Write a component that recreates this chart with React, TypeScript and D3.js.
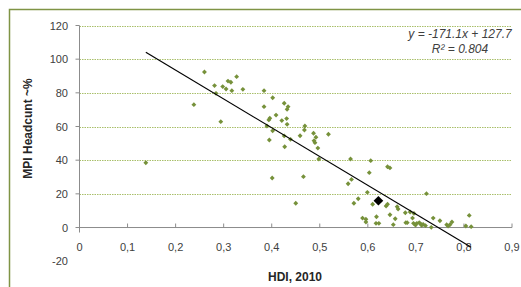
import * as d3 from "d3";

// HDI 2010 vs MPI headcount (%)
const hdi = [
  0.138, 0.238, 0.26, 0.281, 0.284, 0.294, 0.298, 0.305, 0.309, 0.315, 0.317,
  0.327, 0.34, 0.384, 0.402, 0.384, 0.426, 0.434, 0.432, 0.396, 0.394, 0.409,
  0.421, 0.431, 0.432, 0.39, 0.402, 0.469, 0.468, 0.459, 0.426, 0.439, 0.395,
  0.487, 0.492, 0.488, 0.518, 0.427, 0.49, 0.496, 0.498, 0.401, 0.466, 0.45,
  0.564, 0.606, 0.603, 0.641, 0.646, 0.566, 0.559, 0.599, 0.722, 0.58, 0.571,
  0.61, 0.638, 0.641, 0.661, 0.663, 0.678, 0.688, 0.696, 0.646, 0.618, 0.589,
  0.596, 0.596, 0.617, 0.623, 0.657, 0.653, 0.679, 0.682, 0.693, 0.695, 0.699,
  0.702, 0.707, 0.71, 0.712, 0.715, 0.72, 0.736, 0.732, 0.75, 0.764, 0.767,
  0.771, 0.775, 0.804, 0.811, 0.815,
];
const mpi = [
  38.5, 73.0, 92.4, 84.3, 79.7, 62.9, 83.7, 82.3, 87.0, 86.3, 81.3, 89.6, 82.1,
  81.3, 77.1, 71.8, 73.8, 71.8, 70.2, 64.9, 63.9, 66.8, 63.5, 64.7, 61.3, 60.3,
  57.5, 60.3, 57.9, 54.5, 54.4, 52.4, 52.0, 56.0, 53.6, 51.6, 55.4, 48.0, 50.4,
  47.2, 40.7, 29.4, 30.2, 14.4, 40.7, 39.7, 32.6, 36.1, 35.4, 28.6, 26.0, 20.9,
  20.1, 17.1, 14.4, 13.8, 12.8, 13.8, 12.4, 11.0, 8.8, 9.2, 8.4, 7.6, 6.4, 5.6,
  4.9, 3.3, 2.5, 2.5, 5.2, 1.7, 2.9, 2.9, 5.6, 2.5, 1.5, 2.5, 2.9, 2.1, 1.3,
  1.9, 1.1, 5.6, 0.1, 4.0, 1.7, 0.9, 1.7, 3.3, 0.9, 7.2, 0.5,
];
const highlight = { hdi: 0.622, mpi: 15.9 };

const slope = -171.1;
const intercept = 127.7;
const equationLines = ["y = -171.1x + 127.7", "R² = 0.804"];

const xTicks = [0, 0.1, 0.2, 0.3, 0.4, 0.5, 0.6, 0.7, 0.8, 0.9];
const yTicks = [-20, 0, 20, 40, 60, 80, 100, 120];

const W = 521;
const H = 287;

export default function App() {
  const x = d3.scaleLinear().domain([0, 0.9]).range([79.5, 512]);
  const y = d3.scaleLinear().domain([-20, 120]).range([261.2, 25.5]);
  const fmt = (v: number) => (v === 0 ? "0" : String(v).replace(".", ","));
  const font = "'Liberation Sans', Arial, sans-serif";

  const diamond = d3.symbol().type(d3.symbolDiamond2).size(15)();
  const bigDiamond = d3.symbol().type(d3.symbolDiamond2).size(60)();

  const ext = d3.extent(hdi) as [number, number];
  const trend = d3
    .line<number>()
    .x((d) => x(d))
    .y((d) => y(slope * d + intercept))(ext);

  return (
    <svg
      width={W}
      height={H}
      style={{ position: "absolute", left: 0, top: 0, background: "#fff" }}
      fontFamily={font}
    >
      <path d="M9.5,287V9.5H521" fill="none" stroke="#7f9445" strokeWidth={1.5} />

      {yTicks
        .filter((t) => t > 0)
        .map((t) => (
          <line
            key={"g" + t}
            x1={x(0)}
            x2={x(0.9)}
            y1={Math.round(y(t)) + 0.5}
            y2={Math.round(y(t)) + 0.5}
            stroke="#a9bf6a"
            strokeDasharray="1.5 1"
          />
        ))}

      {/* axes */}
      <line x1={x(0)} x2={x(0)} y1={y(120)} y2={y(0) + 5} stroke="#8c8c8c" />
      <line x1={x(0)} x2={x(0.9)} y1={y(0)} y2={y(0)} stroke="#8c8c8c" />
      {yTicks
        .filter((t) => t >= 0)
        .map((t) => (
          <line key={"yt" + t} x1={x(0) - 4} x2={x(0)} y1={y(t)} y2={y(t)} stroke="#8c8c8c" />
        ))}
      {xTicks
        .filter((t) => t > 0)
        .map((t) => (
          <line key={"xt" + t} x1={x(t)} x2={x(t)} y1={y(0) - 4} y2={y(0)} stroke="#8c8c8c" />
        ))}

      {yTicks.map((t) => (
        <text key={"yl" + t} x={68} y={y(t) + 4} textAnchor="end" fontSize={11} fill="#404040">
          {t}
        </text>
      ))}
      {xTicks.map((t) => (
        <text key={"xl" + t} x={x(t)} y={251} textAnchor="middle" fontSize={11} fill="#404040">
          {fmt(t)}
        </text>
      ))}

      <text x={295} y={281} textAnchor="middle" fontSize={12} fontWeight="bold" fill="#262626">
        HDI, 2010
      </text>
      <text
        transform={`translate(32,${(y(120) + y(0)) / 2 + 2}) rotate(-90)`}
        textAnchor="middle"
        fontSize={12}
        fontWeight="bold"
        fill="#262626"
      >
        MPI Headcunt ~%
      </text>

      {hdi.map((h, i) => (
        <path
          key={"p" + i}
          d={diamond!}
          transform={`translate(${x(h)},${y(mpi[i])})`}
          fill="#76913a"
        />
      ))}
      <path
        d={bigDiamond!}
        transform={`translate(${x(highlight.hdi)},${y(highlight.mpi)})`}
        fill="#000"
      />

      <path d={trend!} fill="none" stroke="#000" strokeWidth={1.2} />

      {equationLines.map((s, i) => (
        <text
          key={"eq" + i}
          x={460}
          y={38 + i * 15}
          textAnchor="middle"
          fontSize={12}
          fontStyle="italic"
          fill="#404040"
        >
          {s}
        </text>
      ))}
    </svg>
  );
}
